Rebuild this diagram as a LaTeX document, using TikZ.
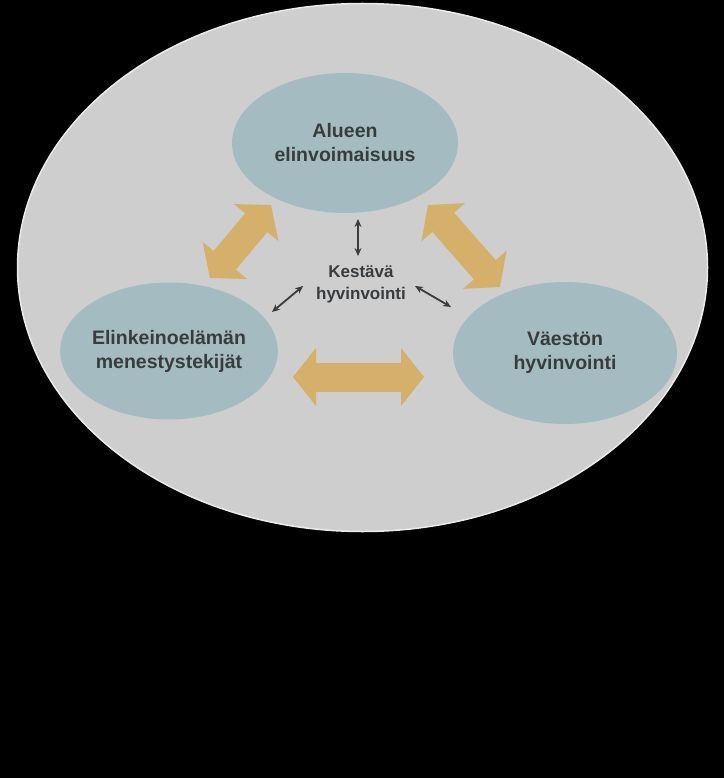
\documentclass[tikz,border=0pt]{standalone}
\usepackage{fontspec}
\setmainfont{Liberation Sans}
\usepackage{xcolor}
\usepackage{tikz}
\usetikzlibrary{shapes.geometric,arrows.meta}

\definecolor{bggrey}{HTML}{CECECE}
\definecolor{blobteal}{HTML}{A4BCC1}
\definecolor{tanarrow}{HTML}{D5B06A}
\definecolor{textgrey}{HTML}{383C3F}

\begin{document}
\begin{tikzpicture}[x=1pt, y=-1pt,
  blob/.style={ellipse, fill=blobteal, inner sep=0pt, text=textgrey, align=center,
    font=\fontsize{19.5}{24}\selectfont\bfseries},
  bigarrow/.style={draw=tanarrow, line width=29pt,
    >={Triangle[length=23pt 0 0, width=58pt 0 0, line width=0pt 0 0]}, <->},
  smallarrow/.style={draw=textgrey, line width=1.8pt,
    >={Stealth[length=8pt 0 0, width=7pt 0 0, line width=0pt 0 0]}, <->}]

% Background and outer ellipse
\fill[black] (0,0) rectangle (724,778);
\filldraw[fill=bggrey, draw=white!60!bggrey, line width=1.5pt] (362.5,267.5) ellipse [x radius=345, y radius=264];

% The three areas
\node[blob, minimum width=226pt, minimum height=140pt] (alue) at (345,143) {Alueen\\elinvoimaisuus};
\node[blob, minimum width=214pt, minimum height=137pt] (elinkeino) at (169,351) {Elinkeinoelämän\\menestystekijät};
\node[blob, minimum width=224pt, minimum height=142pt] (vaesto) at (565,353) {Väestön\\hyvinvointi};

% Centre text
\node[text=textgrey, align=center, font=\fontsize{17}{22}\selectfont\bfseries] (kestava) at (361,284) {Kestävä\\hyvinvointi};

% Ends of the arrows
\coordinate (vasen1) at (210,278);
\coordinate (vasen2) at (271,205);
\coordinate (oikea1) at (428,205);
\coordinate (oikea2) at (500,287);
\coordinate (ala1) at (293,377);
\coordinate (ala2) at (424,377);
\coordinate (pysty1) at (358,219);
\coordinate (pysty2) at (358,256);
\coordinate (vino1) at (272,312);
\coordinate (vino2) at (303,286);
\coordinate (vino3) at (415,286);
\coordinate (vino4) at (451,307);

% Big arrows between the areas
\draw[bigarrow] (vasen1) -- (vasen2);
\draw[bigarrow] (oikea1) -- (oikea2);
\draw[bigarrow] (ala1) -- (ala2);

% Small arrows to the centre
\draw[smallarrow] (pysty1) -- (pysty2);
\draw[smallarrow] (vino1) -- (vino2);
\draw[smallarrow] (vino3) -- (vino4);

\end{tikzpicture}
\end{document}
